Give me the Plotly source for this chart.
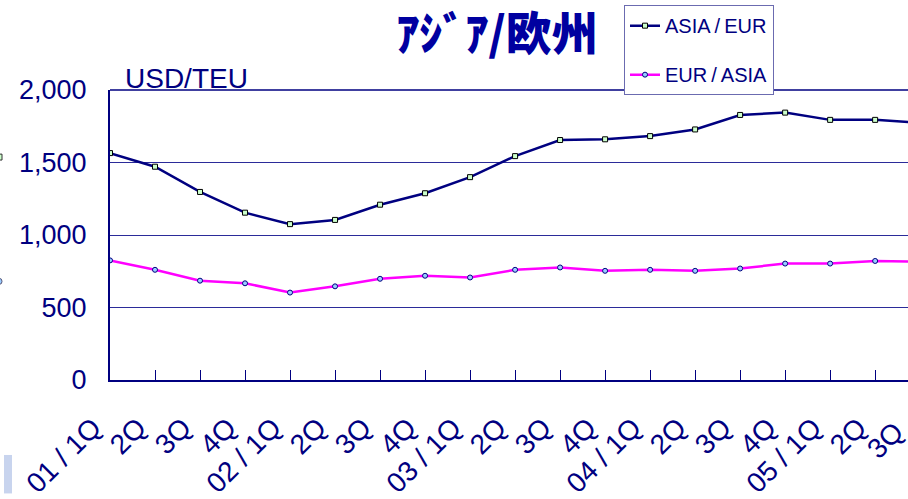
import plotly.graph_objects as go

quarters = ["01 / 1Q", "2Q", "3Q", "4Q", "02 / 1Q", "2Q", "3Q", "4Q",
            "03 / 1Q", "2Q", "3Q", "4Q", "04 / 1Q", "2Q", "3Q", "4Q",
            "05 / 1Q", "2Q", "3Q"]
asia_eur = [1565, 1471, 1297, 1154, 1075, 1104, 1209, 1288,
            1399, 1544, 1655, 1660, 1682, 1728, 1828, 1844,
            1794, 1794, 1775]
eur_asia = [825, 760, 685, 667, 603, 646, 698, 719,
            707, 760, 776, 753, 760, 753, 769, 803,
            803, 821, 815]
y_ticks = [0, 500, 1000, 1500, 2000]
y_tick_labels = ["0", "500", "1,000", "1,500", "2,000"]

W, H = 908, 499
ML, MR, MT, MB = 110, 0, 90, 115
XMAX = 17.73
NAVY = "#000080"
FONT = "Liberation Sans, Arial, sans-serif"

x = list(range(len(quarters)))
n_vis = int(XMAX) + 1

fig = go.Figure()
fig.add_trace(go.Scatter(
    x=x, y=asia_eur, name="ASIA\u2009/\u2009EUR", mode="lines+markers",
    line=dict(color=NAVY, width=2.5),
    marker=dict(symbol="square", size=5, color="#ccffcc",
                line=dict(color="#000000", width=1)),
    legendgroup="a",
))
fig.add_trace(go.Scatter(
    x=x, y=eur_asia, name="EUR\u2009/\u2009ASIA", mode="lines+markers",
    line=dict(color="#ff00ff", width=2.5),
    marker=dict(symbol="circle", size=5, color="#99ccff",
                line=dict(color=NAVY, width=1)),
    legendgroup="b",
))

pw = W - ML - MR
ph = H - MT - MB


def px_x(p):
    return (p - ML) / pw


def px_y(p):
    return (H - MB - p) / ph


shapes = [
    # top border of plot area
    dict(type="line", xref="paper", yref="paper", x0=0, x1=1, y0=1, y1=1,
         line=dict(color=NAVY, width=1.5), layer="above"),
    # light blue decoration bottom-left
    dict(type="rect", xref="paper", yref="paper",
         x0=px_x(4), x1=px_x(12), y0=px_y(499), y1=px_y(460),
         fillcolor="#c8d4ee", line=dict(width=0)),
    # cut-off marks at the left edge
    dict(type="rect", xref="paper", yref="paper",
         x0=px_x(-3), x1=px_x(2), y0=px_y(161), y1=px_y(155),
         fillcolor="#ccffcc", line=dict(color="#333333", width=1)),
    dict(type="circle", xref="paper", yref="paper",
         x0=px_x(-3), x1=px_x(2), y0=px_y(287), y1=px_y(281),
         fillcolor="#99ccff", line=dict(color="#555577", width=1)),
]

annotations = [
    dict(text="USD/TEU", xref="paper", yref="paper", x=px_x(123), y=1,
         xanchor="left", yanchor="bottom", yshift=-6, showarrow=False,
         font=dict(family=FONT, size=28, color=NAVY)),
]
# tick labels beyond the visible axis range (cut by the right edge)
for i in range(n_vis, len(quarters)):
    annotations.append(dict(
        text=quarters[i], xref="paper", yref="paper", x=i / XMAX, y=0,
        xanchor="right", yanchor="top", xshift=-8, yshift=-34,
        textangle=-45, showarrow=False,
        font=dict(family=FONT, size=28, color=NAVY)))

fig.update_layout(
    width=W, height=H,
    margin=dict(l=ML, r=MR, t=MT, b=MB, pad=0),
    paper_bgcolor="white", plot_bgcolor="white",
    font=dict(family=FONT, color=NAVY),
    title=dict(
        text="ｱｼﾞｱ/欧州",
        font=dict(family="Noto Sans CJK JP", size=46, color="#0000a0", weight=900),
        x=497 / W, xanchor="center", xref="container",
        y=1 - 34 / H, yanchor="middle", yref="container",
    ),
    showlegend=True,
    legend=dict(
        x=px_x(624), xanchor="left", y=px_y(4), yanchor="top",
        bgcolor="white", bordercolor="#6b6bb0", borderwidth=1,
        font=dict(family=FONT, size=20, color=NAVY),
        traceorder="grouped", tracegroupgap=20,
        itemwidth=30,
    ),
    xaxis=dict(
        range=[0, XMAX], tickmode="array", tickvals=x, ticktext=quarters,
        tickangle=-45, ticks="inside", ticklen=10, tickwidth=1, tickcolor=NAVY,
        showline=True, linecolor=NAVY, linewidth=2, showgrid=False, zeroline=False,
        tickfont=dict(family=FONT, size=28, color=NAVY),
        ticklabelstandoff=18, ticklabelshift=-17,
    ),
    yaxis=dict(
        range=[0, 2000], tickmode="array", tickvals=y_ticks, ticktext=y_tick_labels,
        ticks="", showline=True, linecolor=NAVY, linewidth=2,
        showgrid=True, gridcolor="#2b2b99", gridwidth=1, zeroline=False,
        tickfont=dict(family=FONT, size=27, color=NAVY),
        ticklabelstandoff=16,
    ),
    shapes=shapes,
    annotations=annotations,
)

fig.write_html("out.html", config={"displayModeBar": False},
               post_script="document.body.style.margin='0';")
